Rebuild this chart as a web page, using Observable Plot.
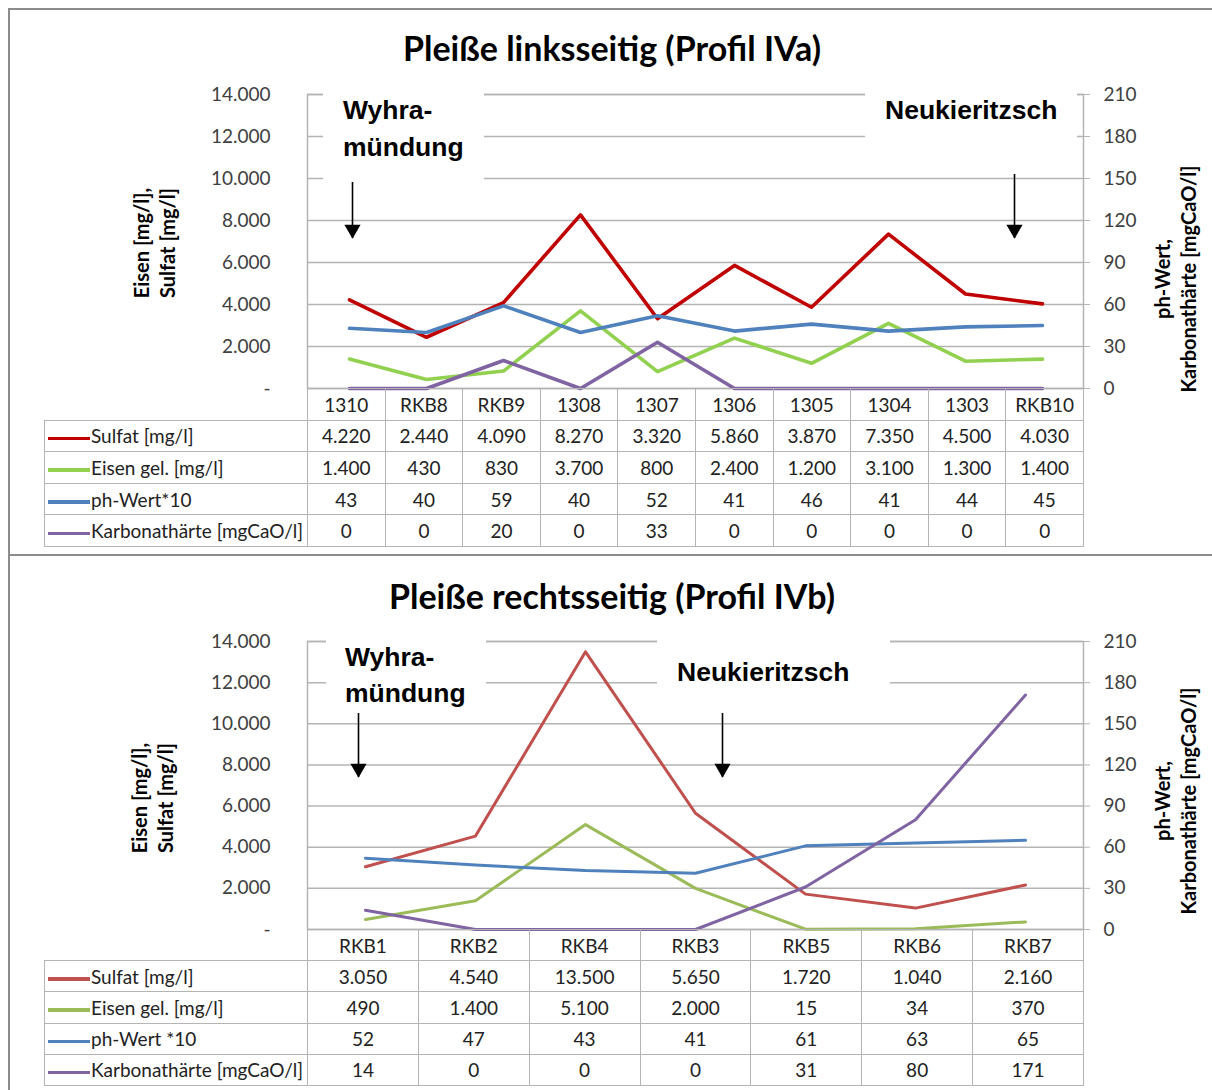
<!DOCTYPE html>
<html><head><meta charset="utf-8">
<script src="https://cdn.jsdelivr.net/npm/d3@7"></script>
<script src="https://cdn.jsdelivr.net/npm/@observablehq/plot@0.6"></script>
<style>
body{margin:0;background:#fff;}
#page{position:relative;width:1212px;height:1090px;overflow:hidden;background:#fff;font-family:Lato,"Open Sans",sans-serif;}
.panel{position:absolute;left:8px;width:1240px;border-top:2px solid #8c8c8c;border-left:2px solid #8c8c8c;box-sizing:border-box;}
.title{position:absolute;left:12px;width:1200px;text-align:center;font-weight:700;font-size:34px;line-height:38px;color:#000;}
.ytitle{position:absolute;font-weight:700;font-size:20px;line-height:26px;text-align:center;white-space:nowrap;color:#000;transform:translate(-50%,-50%) rotate(-90deg);}
.note{position:absolute;background:#fff;font-family:"Liberation Sans",Arial,sans-serif;font-weight:700;font-size:26.5px;color:#000;box-sizing:border-box;white-space:nowrap;}
svg.chart{position:absolute;left:0;}
table.dt{position:absolute;left:44px;border-collapse:collapse;table-layout:fixed;font-size:19px;color:#222;}
table.dt td{border:1.5px solid #b4b4b4;text-align:center;padding:0;overflow:hidden;white-space:nowrap;}
table.dt td.blank{border:none;}
table.dt td.lab{text-align:left;}
.key{display:inline-block;height:3.5px;width:42px;vertical-align:middle;margin:0 1px 0 3px;}
</style></head>
<body><div id="page"></div>
<script>
// ---------- data: Profil IVa (linksseitig) ----------
const catsA   = ["1310","RKB8","RKB9","1308","1307","1306","1305","1304","1303","RKB10"];
const sulfatA = [4220,2440,4090,8270,3320,5860,3870,7350,4500,4030];
const eisenA  = [1400,430,830,3700,800,2400,1200,3100,1300,1400];
const phA     = [43,40,59,40,52,41,46,41,44,45];
const karbA   = [0,0,20,0,33,0,0,0,0,0];
// ---------- data: Profil IVb (rechtsseitig) ----------
const catsB   = ["RKB1","RKB2","RKB4","RKB3","RKB5","RKB6","RKB7"];
const sulfatB = [3050,4540,13500,5650,1720,1040,2160];
const eisenB  = [490,1400,5100,2000,15,34,370];
const phB     = [52,47,43,41,61,63,65];
const karbB   = [14,0,0,0,31,80,171];
// ---------- axes ----------
const leftTicks  = [0,2000,4000,6000,8000,10000,12000,14000];
const rightTicks = [0,30,60,90,120,150,180,210];
const K = 14000/210;

const de = d3.formatLocale({decimal:",", thousands:".", grouping:[3], currency:["",""]}).format(",");

const panels = [
  {
    title: "Pleiße linksseitig (Profil IVa)",
    cats: catsA,
    series: [
      {name:"Sulfat [mg/l]", values:sulfatA, axis:"left", color:"#c00000"},
      {name:"Eisen gel. [mg/l]", values:eisenA, axis:"left", color:"#92d050"},
      {name:"ph-Wert*10", values:phA, axis:"right", color:"#4f81bd"},
      {name:"Karbonathärte [mgCaO/l]", values:karbA, axis:"right", color:"#8064a2"}
    ],
    notes: [
      {text:"Wyhra-<br>mündung", cat:"1310", top:9860, tip:7143, dx:3},
      {text:"Neukieritzsch", cat:"RKB10", top:10190, tip:7143, dx:-28}
    ]
  },
  {
    title: "Pleiße rechtsseitig (Profil IVb)",
    cats: catsB,
    series: [
      {name:"Sulfat [mg/l]", values:sulfatB, axis:"left", color:"#c0504d"},
      {name:"Eisen gel. [mg/l]", values:eisenB, axis:"left", color:"#9bbb59"},
      {name:"ph-Wert *10", values:phB, axis:"right", color:"#4f81bd"},
      {name:"Karbonathärte [mgCaO/l]", values:karbB, axis:"right", color:"#8064a2"}
    ],
    notes: [
      {text:"Wyhra-<br>mündung", cat:"RKB1", top:10500, tip:7389, dx:-7},
      {text:"Neukieritzsch", cat:"RKB3", top:10500, tip:7389, dx:27}
    ]
  }
];

// layout (pixels)
const layout = [
  {panelTop:8, panelH:546, titleTop:29, plotTop:94, plotBottom:388, rowH:31.6, sw:3.6,
   yt:{x:154, y:243}, rt:{x:1175, y:279},
   boxes:[{left:323,top:92,w:161,h:90,pl:20,lh:37},{left:865,top:92,w:212,h:58,pl:20,lh:37}]},
  {panelTop:554, panelH:560, titleTop:577, plotTop:641, plotBottom:929, rowH:31.2, sw:3,
   yt:{x:152, y:798}, rt:{x:1175, y:801},
   boxes:[{left:326,top:639,w:160,h:62,pl:19,lh:36},{left:657,top:639,w:233,h:60,pl:20,lh:66}]}
];

const page = document.getElementById("page");
const gridColor = "#b4b4b4";

panels.forEach((p, i) => {
  const L = layout[i];
  const panel = document.createElement("div");
  panel.className = "panel";
  panel.style.top = L.panelTop + "px";
  panel.style.height = L.panelH + "px";
  page.appendChild(panel);

  const t = document.createElement("div");
  t.className = "title"; t.style.top = L.titleTop + "px"; t.textContent = p.title;
  page.appendChild(t);

  const rows = [];
  p.series.forEach(s => s.values.forEach((v, j) => rows.push({cat:p.cats[j], series:s.name, value:v, yv: s.axis === "right" ? v*K : v})));

  const mt = 94, mb = 12;
  const H = mt + (L.plotBottom - L.plotTop) + mb;
  const arrowMarks = p.notes.flatMap(n => [
    Plot.ruleX([n], {x:"cat", y1:"top", y2:"tip", dx:n.dx, stroke:"#000", strokeWidth:1.6}),
    Plot.dot([n], {x:"cat", y:"tip", dx:n.dx, dy:-9, symbol:"triangle", r:6, fill:"#000", stroke:"none", rotate:180})
  ]);

  const svg = Plot.plot({
    width:1212, height:H, marginLeft:307, marginRight:129, marginTop:mt, marginBottom:mb,
    style:{fontFamily:"Lato, sans-serif", fontSize:"19px", color:"#404040", background:"transparent", overflow:"visible"},
    x:{type:"point", domain:p.cats, padding:0.5, axis:null},
    y:{domain:[0,14000]},
    color:{domain:p.series.map(s=>s.name), range:p.series.map(s=>s.color)},
    marks:[
      Plot.ruleY(leftTicks, {stroke:gridColor, strokeWidth:1.5}),
      Plot.frame({stroke:gridColor, strokeWidth:1.5}),
      Plot.axisY(leftTicks, {anchor:"left", tickSize:0, tickPadding:37, label:null, tickFormat:d => d === 0 ? "-" : de(d)}),
      Plot.axisY(rightTicks.map(v => v*K), {anchor:"right", tickSize:6, tickPadding:14, label:null, stroke:gridColor, fill:"#404040", tickFormat:d => String(Math.round(d/K))}),
      Plot.line(rows, {x:"cat", y:"yv", z:"series", stroke:"series", strokeWidth:L.sw, strokeLinejoin:"round"}),
      ...arrowMarks
    ]
  });
  svg.classList.add("chart");
  svg.style.top = (L.plotTop - mt) + "px";
  page.appendChild(svg);

  // axis titles
  const yt = document.createElement("div");
  yt.className = "ytitle"; yt.style.left = L.yt.x + "px"; yt.style.top = L.yt.y + "px";
  yt.innerHTML = "Eisen [mg/l],<br>Sulfat [mg/l]";
  page.appendChild(yt);
  const rt = document.createElement("div");
  rt.className = "ytitle"; rt.style.left = L.rt.x + "px"; rt.style.top = L.rt.y + "px";
  rt.innerHTML = "ph-Wert,<br>Karbonathärte [mgCaO/l]";
  page.appendChild(rt);

  // annotation text boxes
  p.notes.forEach((n, k) => {
    const b = L.boxes[k];
    const d = document.createElement("div");
    d.className = "note";
    Object.assign(d.style, {left:b.left+"px", top:b.top+"px", width:b.w+"px", height:b.h+"px", paddingLeft:b.pl+"px", lineHeight:b.lh+"px"});
    d.innerHTML = n.text;
    page.appendChild(d);
  });

  // data table (header row = categories), columns follow the x scale step
  const xs = Plot.scale({x:{type:"point", domain:p.cats, padding:0.5, range:[307,1083]}});
  const colW = xs.step !== undefined ? xs.step : 776/p.cats.length;
  const tb = document.createElement("table");
  tb.className = "dt";
  tb.style.top = L.plotBottom + "px";
  tb.style.width = (263 + colW*p.cats.length) + "px";
  const cg = document.createElement("colgroup");
  [263, ...p.cats.map(() => colW)].forEach(w => { const c = document.createElement("col"); c.style.width = w + "px"; cg.appendChild(c); });
  tb.appendChild(cg);
  const hr = document.createElement("tr"); hr.style.height = L.rowH + "px";
  const blank = document.createElement("td"); blank.className = "blank"; hr.appendChild(blank);
  p.cats.forEach(c => { const td = document.createElement("td"); td.textContent = c; hr.appendChild(td); });
  tb.appendChild(hr);
  p.series.forEach(s => {
    const tr = document.createElement("tr"); tr.style.height = L.rowH + "px";
    const lab = document.createElement("td"); lab.className = "lab";
    const key = document.createElement("span"); key.className = "key"; key.style.background = s.color;
    lab.appendChild(key); lab.appendChild(document.createTextNode(s.name));
    tr.appendChild(lab);
    s.values.forEach(v => { const td = document.createElement("td"); td.textContent = de(v); tr.appendChild(td); });
    tb.appendChild(tr);
  });
  page.appendChild(tb);
});
</script>
</body></html>
